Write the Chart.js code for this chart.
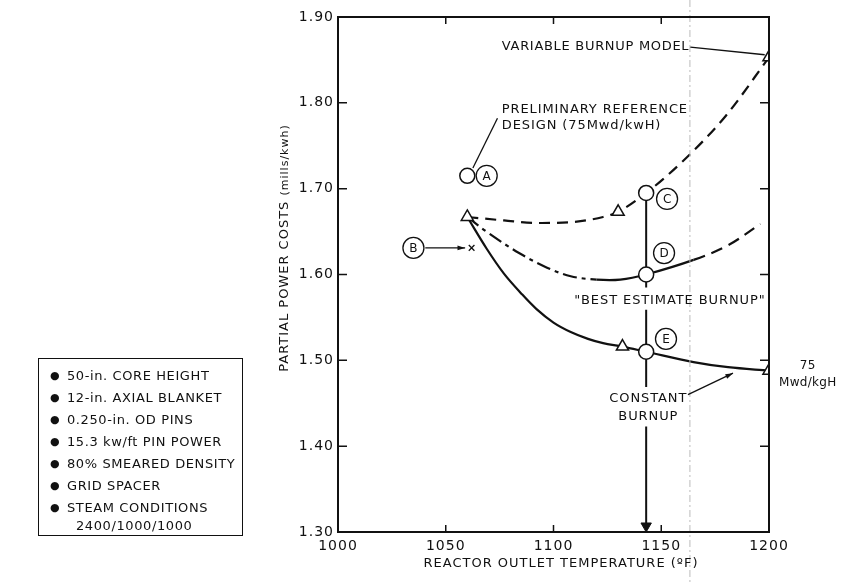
<!DOCTYPE html>
<html>
<head>
<meta charset="utf-8">
<script src="https://cdn.jsdelivr.net/npm/chart.js@4"></script>
<style>
  body { margin: 0; background: #fff; }
  #wrap { position: relative; width: 862px; height: 583px; }
  #specs {
    position: absolute; left: 38px; top: 358px; width: 205px; height: 178px;
    border: 1.5px solid #111; box-sizing: border-box; padding-top: 6px;
    font: 13px "DejaVu Sans", sans-serif; color: #111; letter-spacing: 0.6px;
  }
  #specs div { line-height: 22px; padding-left: 28px; position: relative; white-space: nowrap; }
  #specs div::before { content: "\25CF"; position: absolute; left: 11px; font-size: 11px; }
  #specs div.cont { line-height: 14px; padding-left: 37px; }
  #specs div.cont::before { content: ""; }
</style>
</head>
<body>
<div id="wrap">
  <canvas id="myChart" width="862" height="583"></canvas>
  <div id="specs"></div>
</div>
<script>
// axis ticks
const xTicks = [1000, 1050, 1100, 1150, 1200];
const yTicks = [1.30, 1.40, 1.50, 1.60, 1.70, 1.80, 1.90];

// "variable burnup model" (dashed)
const variableX = [1060, 1077, 1092, 1108, 1123, 1130, 1143, 1160, 1180, 1200];
const variableY = [1.667, 1.663, 1.660, 1.661, 1.667, 1.673, 1.695, 1.732, 1.785, 1.853];

// "best estimate burnup" (dash-dot, then dashed)
const bestX = [1060, 1070, 1084, 1097, 1108, 1120, 1131, 1143, 1165, 1181, 1196];
const bestY = [1.667, 1.648, 1.625, 1.608, 1.598, 1.594, 1.594, 1.600, 1.617, 1.634, 1.659];

// constant burnup, 75 Mwd/kgH (solid)
const constX = [1060, 1069, 1077, 1085, 1092, 1100, 1108, 1116, 1123, 1132, 1143, 1165, 1181, 1200];
const constY = [1.667, 1.630, 1.601, 1.578, 1.560, 1.544, 1.533, 1.525, 1.520, 1.516, 1.510, 1.498, 1.492, 1.488];

// markers
const triX = [1060, 1130, 1200, 1132, 1200];
const triY = [1.667, 1.673, 1.853, 1.516, 1.488];
const circX = [1060, 1143, 1143, 1143];
const circY = [1.715, 1.695, 1.600, 1.510];
const crossX = [1062];
const crossY = [1.631];

// vertical line at 1143 F, broken for the labels
const stemX = 1143;
const stemY = [1.695, 1.600, 1.585, null, 1.559, 1.510, 1.469, null, 1.423, 1.305];

const specs = [
  "50-in. CORE HEIGHT",
  "12-in. AXIAL BLANKET",
  "0.250-in. OD PINS",
  "15.3 kw/ft PIN POWER",
  "80% SMEARED DENSITY",
  "GRID SPACER",
  "STEAM CONDITIONS"
];
const specsCont = "2400/1000/1000";

const xTitle = "REACTOR OUTLET TEMPERATURE (ºF)";
const yTitle = ["PARTIAL POWER COSTS ", "(mills/kwh)"];

// text annotations in data coords
const labels = [
  { t: "VARIABLE BURNUP MODEL", x: 1076, y: 1.866, a: "left", ls: 0.7 },
  { t: "PRELIMINARY REFERENCE", x: 1076, y: 1.792, a: "left" },
  { t: "DESIGN (75Mwd/kwH)", x: 1076, y: 1.773, a: "left" },
  { t: "\"BEST ESTIMATE BURNUP\"", x: 1154, y: 1.570, a: "center" },
  { t: "CONSTANT", x: 1144, y: 1.455, a: "center" },
  { t: "BURNUP", x: 1144, y: 1.434, a: "center" },
  { t: "75", x: 1218, y: 1.494, a: "center", s: 12, ls: 0.3 },
  { t: "Mwd/kgH", x: 1218, y: 1.474, a: "center", s: 12, ls: 0.3 }
];
const circled = [
  { t: "A", x: 1069, y: 1.715 },
  { t: "B", x: 1035, y: 1.631 },
  { t: "C", x: 1152.7, y: 1.688 },
  { t: "D", x: 1151.3, y: 1.625 },
  { t: "E", x: 1152.2, y: 1.525 }
];
// leader lines [x1, y1, x2, y2, arrow]
const leaders = [
  [1163.5, 1.865, 1198, 1.856, false],
  [1074, 1.782, 1062.6, 1.724, false],
  [1040.5, 1.631, 1059, 1.631, true],
  [1162.4, 1.460, 1183.3, 1.485, true]
];

const toPts = (xs, ys) => xs.map((x, i) => ({ x: x, y: ys[i] }));

const specsEl = document.getElementById("specs");
for (const s of specs) {
  const d = document.createElement("div");
  d.textContent = s;
  specsEl.appendChild(d);
}
const cont = document.createElement("div");
cont.className = "cont";
cont.textContent = specsCont;
specsEl.appendChild(cont);

const fontOf = (size) => size + 'px "DejaVu Sans", sans-serif';

const drawExtras = {
  id: "drawExtras",
  beforeDraw(chart) {
    // wider lettering like the original typewriter-style labels
    chart.ctx.letterSpacing = "1px";
  },
  afterDraw(chart) {
    const ctx = chart.ctx;
    const xs = chart.scales.x;
    const ys = chart.scales.y;
    const a = chart.chartArea;
    const px = (v) => xs.getPixelForValue(v);
    const py = (v) => ys.getPixelForValue(v);
    ctx.save();

    // faint scan fold line
    ctx.strokeStyle = "#bbb";
    ctx.lineWidth = 1;
    ctx.setLineDash([7, 3, 2, 3]);
    ctx.beginPath();
    ctx.moveTo(px(1163.3), 0);
    ctx.lineTo(px(1163.3), chart.height);
    ctx.stroke();
    ctx.setLineDash([]);

    // frame
    ctx.strokeStyle = "#111";
    ctx.lineWidth = 2;
    ctx.strokeRect(a.left, a.top, a.right - a.left, a.bottom - a.top);

    // inward ticks
    ctx.lineWidth = 1.5;
    ctx.beginPath();
    for (const v of xTicks.slice(1, -1)) {
      ctx.moveTo(px(v), a.top); ctx.lineTo(px(v), a.top + 7);
      ctx.moveTo(px(v), a.bottom); ctx.lineTo(px(v), a.bottom - 7);
    }
    for (const v of yTicks.slice(1, -1)) {
      ctx.moveTo(a.left, py(v)); ctx.lineTo(a.left + 9, py(v));
      ctx.moveTo(a.right, py(v)); ctx.lineTo(a.right - 9, py(v));
    }
    ctx.stroke();

    // leaders
    ctx.lineWidth = 1.3;
    ctx.fillStyle = "#111";
    for (const [x1, y1, x2, y2, arrow] of leaders) {
      const X1 = px(x1), Y1 = py(y1), X2 = px(x2), Y2 = py(y2);
      ctx.beginPath();
      ctx.moveTo(X1, Y1); ctx.lineTo(X2, Y2);
      ctx.stroke();
      if (arrow) {
        const ang = Math.atan2(Y2 - Y1, X2 - X1);
        ctx.beginPath();
        ctx.moveTo(X2, Y2);
        ctx.lineTo(X2 - 8 * Math.cos(ang - 0.3), Y2 - 8 * Math.sin(ang - 0.3));
        ctx.lineTo(X2 - 8 * Math.cos(ang + 0.3), Y2 - 8 * Math.sin(ang + 0.3));
        ctx.closePath();
        ctx.fill();
      }
    }

    // annotation text
    ctx.textBaseline = "middle";
    for (const l of labels) {
      ctx.font = fontOf(l.s || 13);
      ctx.letterSpacing = (l.ls != null ? l.ls : 0.9) + "px";
      ctx.textAlign = l.a;
      ctx.fillText(l.t, px(l.x), py(l.y));
    }
    ctx.font = fontOf(12);
    ctx.letterSpacing = "0px";
    ctx.textAlign = "center";
    for (const c of circled) {
      ctx.beginPath();
      ctx.arc(px(c.x), py(c.y), 10.5, 0, Math.PI * 2);
      ctx.stroke();
      ctx.fillText(c.t, px(c.x), py(c.y) + 1);
    }

    // axis titles
    ctx.letterSpacing = "1px";
    ctx.font = fontOf(13);
    ctx.fillText(xTitle, 561, 564);

    ctx.translate(285, 248);
    ctx.rotate(-Math.PI / 2);
    ctx.font = fontOf(13);
    const w1 = ctx.measureText(yTitle[0]).width;
    ctx.font = fontOf(11);
    const w2 = ctx.measureText(yTitle[1]).width;
    ctx.textAlign = "left";
    ctx.font = fontOf(13);
    ctx.fillText(yTitle[0], -(w1 + w2) / 2, 0);
    ctx.font = fontOf(11);
    ctx.fillText(yTitle[1], -(w1 + w2) / 2 + w1, 0);
    ctx.restore();
  }
};

new Chart(document.getElementById("myChart"), {
  type: "line",
  data: {
    datasets: [
      {
        label: "Circles",
        data: toPts(circX, circY),
        showLine: false, pointStyle: "circle", pointRadius: 7.5,
        backgroundColor: "#fff", borderColor: "#111", borderWidth: 1.5
      },
      {
        label: "Triangles",
        data: toPts(triX, triY),
        showLine: false, pointStyle: "triangle", pointRadius: 7,
        backgroundColor: "#fff", borderColor: "#111", borderWidth: 1.5
      },
      {
        label: "B",
        data: toPts(crossX, crossY),
        showLine: false, pointStyle: "crossRot", pointRadius: 4,
        borderColor: "#111", borderWidth: 1.3
      },
      {
        label: "Arrow",
        data: [{ x: stemX, y: 1.307 }],
        showLine: false, pointStyle: "triangle", pointRotation: 180,
        pointRadius: 6, backgroundColor: "#111", borderColor: "#111"
      },
      {
        label: "Stem",
        data: stemY.map((y) => ({ x: stemX, y: y })),
        borderColor: "#111", borderWidth: 2, spanGaps: false,
        pointRadius: 0
      },
      {
        label: "Variable burnup model",
        data: toPts(variableX, variableY),
        borderColor: "#111", borderWidth: 2.2, borderDash: [11, 7],
        pointRadius: 0, tension: 0.4, cubicInterpolationMode: "monotone"
      },
      {
        label: "Best estimate burnup",
        data: toPts(bestX, bestY),
        borderColor: "#111", borderWidth: 2.2,
        pointRadius: 0, tension: 0.35,
        segment: {
          borderDash: (c) => (c.p0.parsed.x < 1120 ? [14, 5, 4, 5] : (c.p0.parsed.x < 1150 ? [] : [12, 7]))
        }
      },
      {
        label: "Constant burnup",
        data: toPts(constX, constY),
        borderColor: "#111", borderWidth: 2.2,
        pointRadius: 0, tension: 0.35
      }
    ]
  },
  options: {
    responsive: false,
    animation: false,
    layout: { padding: { left: 270, right: 93, top: 17, bottom: 0 } },
    plugins: { legend: { display: false }, tooltip: { enabled: false } },
    scales: {
      x: {
        type: "linear", min: 1000, max: 1200,
        afterFit: (s) => { s.height = 51; },
        grid: { display: false, drawTicks: false },
        border: { display: false },
        ticks: {
          stepSize: 50, padding: 6, color: "#111",
          font: { family: "DejaVu Sans", size: 14 },
          callback: (v) => String(v)
        }
      },
      y: {
        type: "linear", min: 1.3, max: 1.9,
        afterFit: (s) => { s.width = 68; },
        grid: { display: false, drawTicks: false },
        border: { display: false },
        ticks: {
          stepSize: 0.1, padding: 4, color: "#111",
          font: { family: "DejaVu Sans", size: 14 },
          callback: (v) => v.toFixed(2)
        }
      }
    }
  },
  plugins: [drawExtras]
});
</script>
</body>
</html>
